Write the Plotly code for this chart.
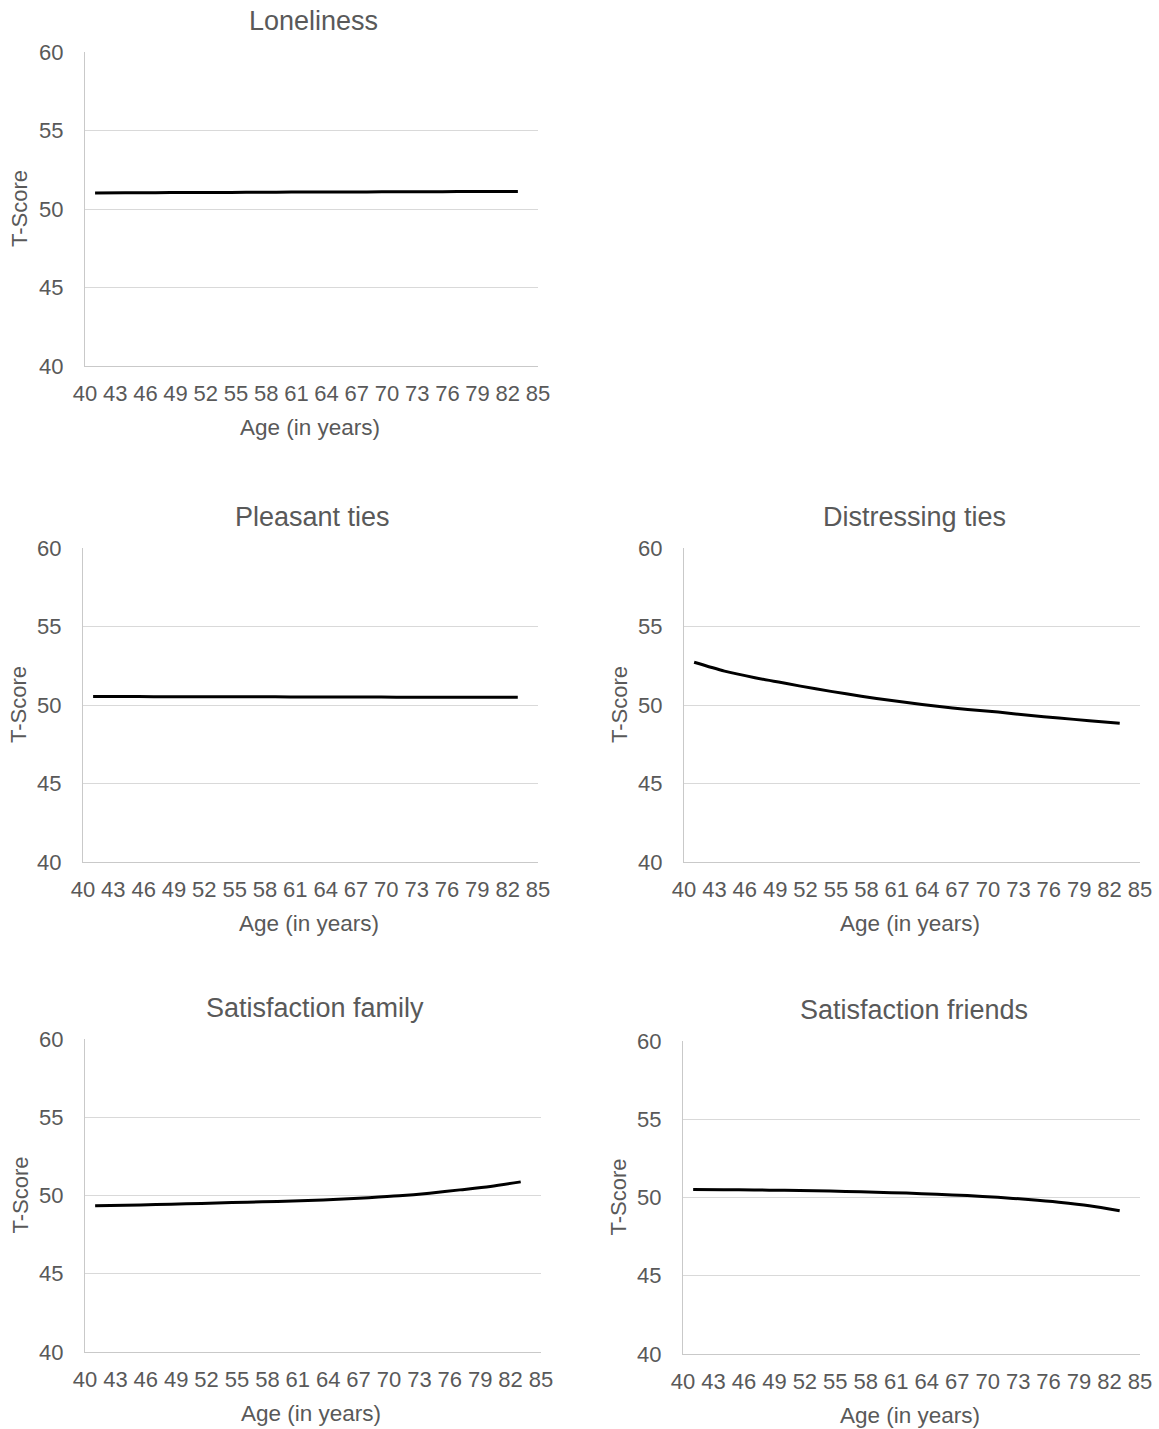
import plotly.graph_objects as go

# Age grid of the predicted trajectories (years)
ages = [41, 44, 47, 50, 53, 56, 59, 62, 65, 68, 71, 74, 77, 80, 83]

# Predicted T-scores per outcome
loneliness = [51.02, 51.03, 51.04, 51.05, 51.05, 51.06, 51.07, 51.08, 51.08, 51.09, 51.10, 51.10, 51.11, 51.11, 51.12]
pleasant_ties = [50.54, 50.54, 50.53, 50.53, 50.52, 50.52, 50.52, 50.51, 50.51, 50.51, 50.50, 50.50, 50.50, 50.49, 50.49]
distressing_ties = [52.72, 52.16, 51.74, 51.38, 51.03, 50.71, 50.42, 50.16, 49.92, 49.72, 49.55, 49.34, 49.17, 49.00, 48.84]
satisfaction_family = [49.35, 49.38, 49.42, 49.47, 49.52, 49.57, 49.62, 49.68, 49.76, 49.86, 49.98, 50.15, 50.36, 50.58, 50.87]
satisfaction_friends = [50.51, 50.50, 50.48, 50.46, 50.43, 50.39, 50.34, 50.28, 50.21, 50.12, 50.01, 49.87, 49.70, 49.48, 49.15]

panel_titles = ["Loneliness", "Pleasant ties", "Distressing ties",
                "Satisfaction family", "Satisfaction friends"]
panel_series = [loneliness, pleasant_ties, distressing_ties,
                satisfaction_family, satisfaction_friends]
x_title = "Age (in years)"
y_title = "T-Score"

W, H = 1159, 1429

FONT = "Liberation Sans, Arial, sans-serif"
TXT = "#595959"
GRID = "#d9d9d9"
AXIS = "#c9c9c9"


def fx(px):
    return px / W


def fy(py):
    return 1 - py / H


# plot-area boxes in pixels: left, right, top, bottom
boxes = [
    (85, 538, 52, 366),
    (83, 538, 548, 862),
    (684, 1140, 548, 862),
    (85, 541, 1039, 1352),
    (683, 1140, 1041, 1354),
]

fig = go.Figure()
annotations = []

for i, (title, ys, (l, r, t, b)) in enumerate(zip(panel_titles, panel_series, boxes), start=1):
    xa = "x" if i == 1 else f"x{i}"
    ya = "y" if i == 1 else f"y{i}"
    fig.add_trace(go.Scatter(
        x=ages, y=ys, mode="lines",
        line=dict(color="black", width=3, shape="spline", smoothing=0.8),
        xaxis=xa, yaxis=ya, showlegend=False, hoverinfo="skip",
    ))
    xkey = "xaxis" if i == 1 else f"xaxis{i}"
    ykey = "yaxis" if i == 1 else f"yaxis{i}"
    fig.update_layout({
        xkey: dict(
            domain=[fx(l), fx(r)], anchor=ya,
            range=[40, 85], tick0=40, dtick=3, tickmode="linear",
            showgrid=False, zeroline=False, automargin=False,
            showline=True, linecolor=AXIS, linewidth=1,
            ticks="", ticklabelstandoff=8,
            tickfont=dict(family=FONT, size=22, color=TXT),
            fixedrange=True,
        ),
        ykey: dict(
            domain=[fy(b), fy(t)], anchor=xa,
            range=[40, 60], tick0=40, dtick=5, tickmode="linear",
            showgrid=True, gridcolor=GRID, gridwidth=1, zeroline=False,
            automargin=False,
            showline=True, linecolor=AXIS, linewidth=1,
            ticks="", ticklabelstandoff=16,
            tickfont=dict(family=FONT, size=22, color=TXT),
            fixedrange=True,
        ),
    })
    cx = (l + r) / 2
    # panel title
    annotations.append(dict(
        text=title, xref="paper", yref="paper",
        x=fx(cx + 2), y=fy(t - 31),
        xanchor="center", yanchor="middle", showarrow=False,
        font=dict(family=FONT, size=27, color=TXT),
    ))
    # x-axis title
    annotations.append(dict(
        text=x_title, xref="paper", yref="paper",
        x=fx(cx - 2), y=fy(b + 61),
        xanchor="center", yanchor="middle", showarrow=False,
        font=dict(family=FONT, size=22.5, color=TXT),
    ))
    # y-axis title
    annotations.append(dict(
        text=y_title, xref="paper", yref="paper",
        x=fx(l - 65), y=fy((t + b) / 2),
        xanchor="center", yanchor="middle", showarrow=False, textangle=-90,
        font=dict(family=FONT, size=22, color=TXT),
    ))

fig.update_layout(
    width=W, height=H,
    margin=dict(l=0, r=0, t=0, b=0, pad=0, autoexpand=False),
    paper_bgcolor="white", plot_bgcolor="white",
    font=dict(family=FONT, color=TXT),
    annotations=annotations,
)

fig.write_html("out.html", config={"displayModeBar": False})
